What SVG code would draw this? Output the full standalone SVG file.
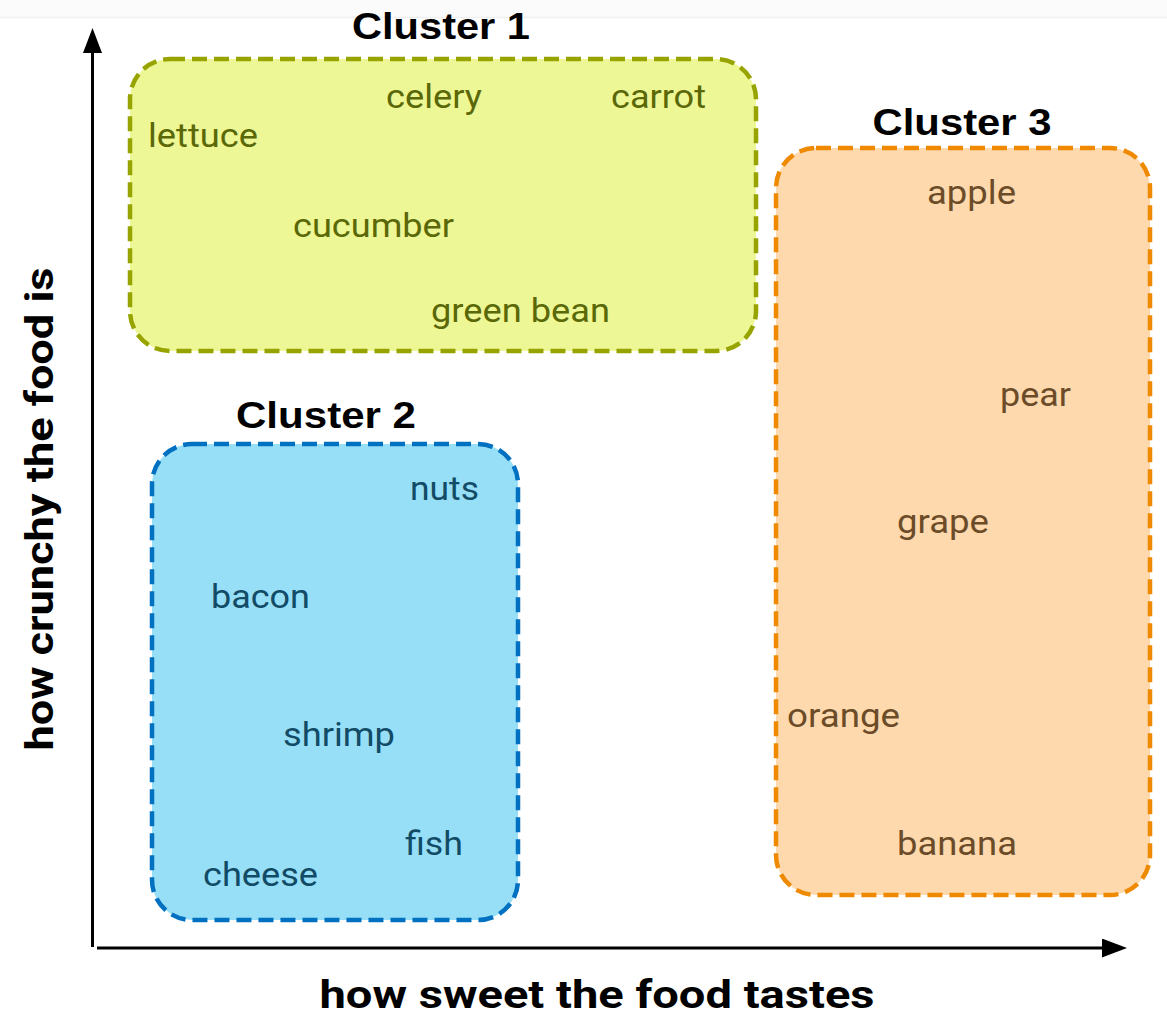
<svg xmlns="http://www.w3.org/2000/svg" width="1167" height="1016" viewBox="0 0 1167 1016">
<style>
.box{stroke-width:4.5;stroke-dasharray:15 7}
.c1{fill:#eef795;stroke:#97a400}
.c2{fill:#97dff7;stroke:#0070c0}
.c3{fill:#fdd9ad;stroke:#ef8900}
.lbl{font-family:Roboto,"Liberation Sans",sans-serif;font-size:34px}
.t1{fill:#5a6808}
.t2{fill:#124b66}
.t3{fill:#6c4c28}
.title{font-family:"Liberation Sans",Arial,sans-serif;font-weight:bold;font-size:37px;fill:#000}
.axis{font-family:Roboto,"Liberation Sans",sans-serif;font-weight:bold;font-size:39px;fill:#000}
</style>
<defs>
<marker id="arr" viewBox="0 0 25 19" refX="0" refY="9.5" markerWidth="25" markerHeight="19" markerUnits="userSpaceOnUse" orient="auto">
<path d="M0,0 L25,9.5 L0,19 z" fill="#000"/>
</marker>
</defs>
<rect width="1167" height="1016" fill="#fff"/>
<rect width="1167" height="17" fill="#fbfbfb"/>
<line x1="0" y1="17.5" x2="1167" y2="17.5" stroke="#efefef" stroke-width="1.5"/>
<g id="connectors">
<line x1="92.5" y1="947" x2="92.5" y2="53" stroke="#000" stroke-width="3" marker-end="url(#arr)"/>
<line x1="97" y1="948" x2="1102" y2="948" stroke="#000" stroke-width="3" marker-end="url(#arr)"/>
</g>
<g id="cluster1">
<rect class="box c1" x="130" y="59" width="626" height="292" rx="40" ry="40"/>
<text class="title" x="441" y="39" text-anchor="middle" textLength="178" lengthAdjust="spacingAndGlyphs">Cluster 1</text>
<text class="lbl t1" x="386" y="108" textLength="96" lengthAdjust="spacingAndGlyphs">celery</text>
<text class="lbl t1" x="611" y="108" textLength="95" lengthAdjust="spacingAndGlyphs">carrot</text>
<text class="lbl t1" x="148" y="147" textLength="110" lengthAdjust="spacingAndGlyphs">lettuce</text>
<text class="lbl t1" x="293" y="237" textLength="161" lengthAdjust="spacingAndGlyphs">cucumber</text>
<text class="lbl t1" x="431" y="322" textLength="179" lengthAdjust="spacingAndGlyphs">green bean</text>
</g>
<g id="cluster2">
<rect class="box c2" x="152" y="444" width="366" height="476" rx="40" ry="40"/>
<text class="title" x="326" y="428" text-anchor="middle" textLength="180" lengthAdjust="spacingAndGlyphs">Cluster 2</text>
<text class="lbl t2" x="410" y="500" textLength="69" lengthAdjust="spacingAndGlyphs">nuts</text>
<text class="lbl t2" x="211" y="608" textLength="99" lengthAdjust="spacingAndGlyphs">bacon</text>
<text class="lbl t2" x="283" y="746" textLength="112" lengthAdjust="spacingAndGlyphs">shrimp</text>
<text class="lbl t2" x="405" y="855" textLength="58" lengthAdjust="spacingAndGlyphs">fish</text>
<text class="lbl t2" x="203" y="886" textLength="115" lengthAdjust="spacingAndGlyphs">cheese</text>
</g>
<g id="cluster3">
<rect class="box c3" x="776" y="148" width="374" height="747" rx="40" ry="40"/>
<text class="title" x="962" y="135" text-anchor="middle" textLength="179" lengthAdjust="spacingAndGlyphs">Cluster 3</text>
<text class="lbl t3" x="927" y="204" textLength="89" lengthAdjust="spacingAndGlyphs">apple</text>
<text class="lbl t3" x="1000" y="406" textLength="71" lengthAdjust="spacingAndGlyphs">pear</text>
<text class="lbl t3" x="897" y="533" textLength="92" lengthAdjust="spacingAndGlyphs">grape</text>
<text class="lbl t3" x="787" y="727" textLength="113" lengthAdjust="spacingAndGlyphs">orange</text>
<text class="lbl t3" x="897" y="855" textLength="120" lengthAdjust="spacingAndGlyphs">banana</text>
</g>
<g id="axis-labels">
<text class="axis" x="597" y="1008" text-anchor="middle" textLength="555" lengthAdjust="spacingAndGlyphs">how sweet the food tastes</text>
<text class="axis" transform="translate(53,509) rotate(-90)" x="0" y="0" text-anchor="middle" textLength="483" lengthAdjust="spacingAndGlyphs">how crunchy the food is</text>
</g>
</svg>
